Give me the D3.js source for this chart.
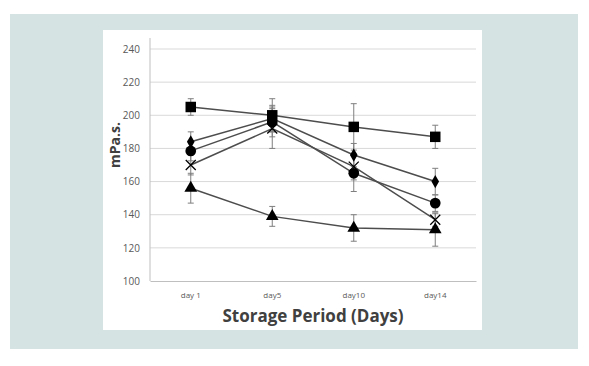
<!DOCTYPE html>
<html><head><meta charset="utf-8">
<script src="https://cdn.jsdelivr.net/npm/d3@7"></script>
<style>body{margin:0;background:#fff;}svg{display:block;}</style>
</head><body>
<script>
const categories = ["day 1", "day5", "day10", "day14"];
const yTicks = [100, 120, 140, 160, 180, 200, 220, 240];
const squareVals = [205, 200, 193, 187];
const squareErr = [5, 10, 14, 7];
const diamondVals = [184, 198, 176, 160];
const diamondErr = [6, 8, 7, 8];
const circleVals = [178.5, 196, 165, 147];
const circleErr = [6, 9, 11, 5];
const crossVals = [170, 192, 169, 137];
const crossErr = [6, 12, 8, 4];
const triangleVals = [156, 139, 132, 131];
const triangleErr = [9, 6, 8, 10];

const series = [
  {sym: "square", v: squareVals, e: squareErr},
  {sym: "diamond", v: diamondVals, e: diamondErr},
  {sym: "circle", v: circleVals, e: circleErr},
  {sym: "cross", v: crossVals, e: crossErr},
  {sym: "triangle", v: triangleVals, e: triangleErr}
];

const W = 589, H = 366;
const svg = d3.select("body").append("svg").attr("width", W).attr("height", H);
svg.append("rect").attr("x", 10).attr("y", 14).attr("width", 568).attr("height", 335).attr("fill", "#d5e4e3");
svg.append("rect").attr("x", 103).attr("y", 30).attr("width", 379).attr("height", 300).attr("fill", "#ffffff");

const x = d3.scaleBand().domain(categories).range([150, 476]);
const y = d3.scaleLinear().domain([100, 240]).range([281, 49]);

// grid
svg.append("g").selectAll("line").data(yTicks.filter(t => t > 100)).join("line")
  .attr("x1", 150).attr("x2", 476).attr("y1", d => y(d)).attr("y2", d => y(d))
  .attr("stroke", "#d9d9d9").attr("stroke-width", 1);

// axes
const yAxis = svg.append("g").attr("transform", "translate(150,0)")
  .call(d3.axisLeft(y).tickValues(yTicks).tickSize(0).tickPadding(10));
yAxis.select(".domain").attr("stroke", "#bfbfbf").attr("d", `M0,38V${y(100)}`);
yAxis.selectAll("text").attr("font-family", "Open Sans, sans-serif").attr("font-size", 10).attr("fill", "#595959");

const xAxis = svg.append("g").attr("transform", `translate(0,${y(100)})`)
  .call(d3.axisBottom(x).tickSize(0).tickPadding(11));
xAxis.select(".domain").attr("stroke", "#bfbfbf");
xAxis.selectAll("text").attr("font-family", "Open Sans, sans-serif").attr("font-size", 8).attr("fill", "#595959");

svg.append("text").attr("x", 313).attr("y", 322).attr("text-anchor", "middle")
  .attr("font-family", "Open Sans, sans-serif").attr("font-weight", "bold").attr("font-size", 17)
  .attr("fill", "#404040").text("Storage Period (Days)");
svg.append("text").attr("transform", "translate(120,145) rotate(-90)").attr("text-anchor", "middle")
  .attr("font-family", "Open Sans, sans-serif").attr("font-weight", "bold").attr("font-size", 14)
  .attr("fill", "#404040").text("mPa.s.");

const cx = i => x(categories[i]) + x.bandwidth() / 2;

// error bars
series.forEach(s => {
  const g = svg.append("g").attr("stroke", "#7f7f7f").attr("stroke-width", 1);
  s.v.forEach((v, i) => {
    const X = cx(i), y1 = y(v + s.e[i]), y2 = y(v - s.e[i]);
    g.append("line").attr("x1", X).attr("x2", X).attr("y1", y1).attr("y2", y2);
    g.append("line").attr("x1", X - 3).attr("x2", X + 3).attr("y1", y1).attr("y2", y1);
    g.append("line").attr("x1", X - 3).attr("x2", X + 3).attr("y1", y2).attr("y2", y2);
  });
});

// lines
const line = d3.line().x((d, i) => cx(i)).y(d => y(d));
series.forEach(s => {
  svg.append("path").attr("d", line(s.v)).attr("fill", "none").attr("stroke", "#4d4d4d").attr("stroke-width", 1.5);
});

// markers
const symMap = {square: d3.symbolSquare, diamond: d3.symbolDiamond, circle: d3.symbolCircle, triangle: d3.symbolTriangle};
const sizeMap = {square: 110, diamond: 50, circle: 90, triangle: 70};
series.forEach(s => {
  s.v.forEach((v, i) => {
    const X = cx(i), Y = y(v);
    if (s.sym === "cross") {
      svg.append("path").attr("d", `M${X-5},${Y-5}L${X+5},${Y+5}M${X-5},${Y+5}L${X+5},${Y-5}`)
        .attr("stroke", "#000").attr("stroke-width", 1.3).attr("fill", "none");
    } else {
      svg.append("path").attr("transform", `translate(${X},${Y})`)
        .attr("d", d3.symbol().type(symMap[s.sym]).size(sizeMap[s.sym])()).attr("fill", "#000");
    }
  });
});
</script>
</body></html>
